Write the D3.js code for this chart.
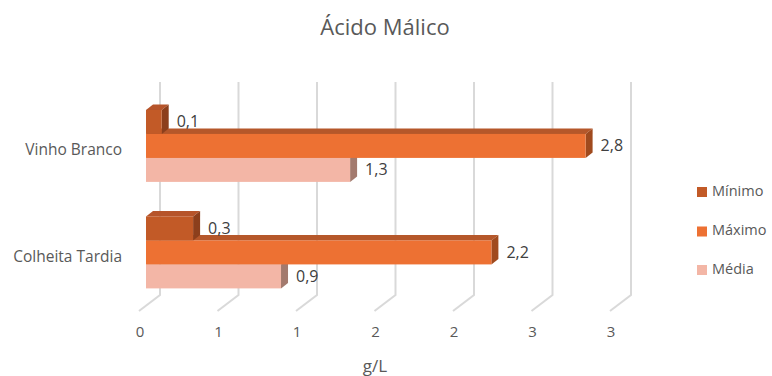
<!DOCTYPE html>
<html><head><meta charset="utf-8">
<script src="https://cdn.jsdelivr.net/npm/d3@7"></script>
<style>body{margin:0;background:#fff}svg{display:block}text{font-family:"Open Sans",sans-serif;fill:#595959}</style>
</head><body>
<svg id="c" width="772" height="376"></svg>
<script>
const categories = ["Vinho Branco", "Colheita Tardia"];
const seriesNames = ["Mínimo", "Máximo", "Média"];
const minimo = [0.1, 0.3];
const maximo = [2.8, 2.2];
const media = [1.3, 0.86];
const tickValues = [0, 0.5, 1, 1.5, 2, 2.5, 3];
const tickLabels = ["0", "1", "1", "2", "2", "3", "3"];
const seriesValues = [minimo, maximo, media];

const colors = {
  front: ["#C25A27", "#ED7133", "#F3B6A6"],
  top:   ["#B6542A", "#B5572A", "#D99C8C"],
  side:  ["#8C3F1C", "#A04A1E", "#A37A6E"]
};

const svg = d3.select("#c");
const x = d3.scaleLinear().domain([0, 3]).range([139, 610]);
const y = d3.scaleBand().domain(categories).range([98, 311]).padding(0);
const inner = d3.scaleBand().domain(seriesNames).range([0, y.bandwidth()]).paddingInner(0).paddingOuter(0.72);
const D = [21, -16]; // depth vector
const z0 = 1/3, z1 = 2/3;
const P = (xv, yv, z) => [xv + D[0]*z, yv + D[1]*z];

// gridlines
const g = svg.append("g");
tickValues.forEach(v => {
  const [bx, by0] = P(x(v), y.range()[0], 1);
  const [, by1] = P(x(v), y.range()[1], 1);
  const [fx, fy] = P(x(v), y.range()[1], 0);
  g.append("path").attr("d", `M${bx},${by0}L${bx},${by1}L${fx},${fy}`)
    .attr("fill", "none").attr("stroke", "#d9d9d9").attr("stroke-width", 2);
});

// tick labels
tickValues.forEach((v, i) => {
  svg.append("text").attr("x", x(v) + 1).attr("y", 333).attr("text-anchor", "middle")
    .attr("dominant-baseline", "middle").style("font-size", "15px").text(tickLabels[i]);
});

// bars: draw bottom series first
const bars = svg.append("g");
const fmt = v => d3.format(".1f")(v).replace(".", ",");
categories.forEach((cat, ci) => {
  for (let si = seriesNames.length - 1; si >= 0; si--) {
    const v = seriesValues[si][ci];
    const ya = y(cat) + inner(seriesNames[si]);
    const yb = ya + inner.bandwidth();
    const xa = x(0), xb = x(v);
    const poly = pts => pts.map(p => p.join(",")).join(" ");
    bars.append("polygon").attr("points", poly([P(xa, ya, z0), P(xb, ya, z0), P(xb, ya, z1), P(xa, ya, z1)]))
      .attr("fill", colors.top[si]);
    bars.append("polygon").attr("points", poly([P(xb, ya, z0), P(xb, ya, z1), P(xb, yb, z1), P(xb, yb, z0)]))
      .attr("fill", colors.side[si]);
    const [fx0, fy0] = P(xa, ya, z0);
    const [fx1, fy1] = P(xb, yb, z0);
    bars.append("rect").attr("x", fx0).attr("y", fy0).attr("width", fx1 - fx0).attr("height", fy1 - fy0)
      .attr("fill", colors.front[si]);
    bars.append("text").attr("x", fx1 + 15).attr("y", (fy0 + fy1) / 2 + 1)
      .attr("dominant-baseline", "middle").style("font-size", "16px").style("fill", "#404040").text(fmt(v));
  }
});

// category labels
categories.forEach(cat => {
  svg.append("text").attr("x", 122).attr("y", y(cat) + y.bandwidth()/2)
    .attr("text-anchor", "end").attr("dominant-baseline", "middle")
    .style("font-size", "15.5px").style("fill", "#595959").text(cat);
});

// title
svg.append("text").attr("x", 385).attr("y", 29).attr("text-anchor", "middle").attr("dominant-baseline", "middle")
  .style("font-size", "22px").text("Ácido Málico");

// axis title
svg.append("text").attr("x", 375).attr("y", 367).attr("text-anchor", "middle").attr("dominant-baseline", "middle")
  .style("font-size", "17px").text("g/L");

// legend
const legY = [192, 231.5, 270];
seriesNames.forEach((s, i) => {
  svg.append("rect").attr("x", 697).attr("y", legY[i] - 5).attr("width", 10).attr("height", 10).attr("fill", colors.front[i]);
  svg.append("text").attr("x", 712).attr("y", legY[i]).attr("dominant-baseline", "middle")
    .style("font-size", "14.5px").text(s);
});
</script>
</body></html>
